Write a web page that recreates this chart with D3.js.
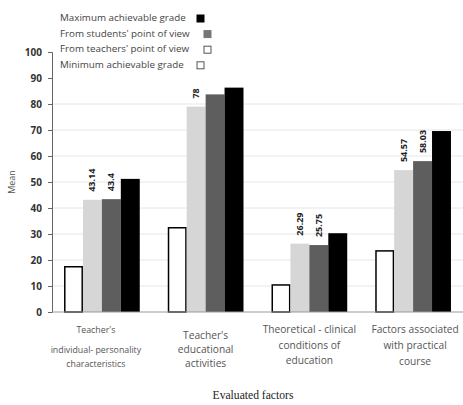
<!DOCTYPE html>
<html>
<head>
<meta charset="utf-8">
<script src="https://cdn.jsdelivr.net/npm/d3@7"></script>
<style>
  body { margin: 0; background: #fff; }
  text { font-family: "Open Sans", sans-serif; }
</style>
</head>
<body>
<div id="chart"></div>
<script>
// data
var categories = [
  ["Teacher's", "individual- personality", "characteristics"],
  ["Teacher's", "educational", "activities"],
  ["Theoretical - clinical", "conditions of", "education"],
  ["Factors associated", "with practical", "course"]
];
var seriesNames = ["Minimum achievable grade", "From teachers' point of view",
                   "From students' point of view", "Maximum achievable grade"];
var minGrade = [17.4, 32.4, 10.4, 23.5];
var teachers = [43.14, 79, 26.29, 54.57];
var students = [43.4, 83.7, 25.75, 58.03];
var maxGrade = [51.2, 86.3, 30.3, 69.6];
var teacherLabels = ["43.14", "78", "26.29", "54.57"];
var studentLabels = ["43.4", "", "25.75", "58.03"];
var yTicks = [0, 10, 20, 30, 40, 50, 60, 70, 80, 90, 100];

var width = 463, height = 405;
var svg = d3.select("#chart").append("svg")
  .attr("width", width)
  .attr("height", height);

var y = d3.scaleLinear().domain([0, 100]).range([312, 52]);
var x0 = d3.scaleBand().domain(d3.range(categories.length))
  .range([52, 463]).paddingInner(0.27).paddingOuter(0.116);
var x1 = d3.scaleBand().domain(d3.range(4)).range([0, x0.bandwidth()]);

var series = [minGrade, teachers, students, maxGrade];
var fills = ["#fff", "#d6d6d6", "#5e5e5e", "#000"];

// grid lines
svg.append("g").selectAll("line")
  .data(yTicks.filter(function(t) { return t > 0 && t <= 80; }))
  .enter().append("line")
  .attr("x1", 52).attr("x2", 463)
  .attr("y1", function(d) { return y(d); })
  .attr("y2", function(d) { return y(d); })
  .attr("stroke", "#e6e6e6");

// bars
var groups = svg.append("g").selectAll("g")
  .data(categories)
  .enter().append("g")
  .attr("transform", function(d, i) { return "translate(" + x0(i) + ",0)"; });

series.forEach(function(s, k) {
  groups.append("rect")
    .attr("x", function(d, i) { return x1(k) + (k == 0 ? 0.75 : 0); })
    .attr("width", x1.bandwidth() - (k == 0 ? 1.5 : 0))
    .attr("y", function(d, i) { return y(s[i]); })
    .attr("height", function(d, i) { return y(0) - y(s[i]); })
    .attr("fill", fills[k])
    .attr("stroke", k == 0 ? "#000" : "none")
    .attr("stroke-width", 1.5);
});

// value labels
[[1, teacherLabels], [2, studentLabels]].forEach(function(p) {
  var k = p[0], labs = p[1];
  groups.append("text")
    .attr("transform", function(d, i) {
      return "translate(" + (x1(k) + x1.bandwidth() / 2 + 3) + "," + (y(series[k][i]) - 8) + ") rotate(-90)";
    })
    .attr("font-size", 9)
    .attr("font-weight", "bold")
    .attr("fill", "#222")
    .text(function(d, i) { return labs[i]; });
});

// axes
var yAxis = svg.append("g")
  .attr("transform", "translate(52,0)")
  .call(d3.axisLeft(y).tickValues(yTicks).tickSize(4).tickPadding(6));
yAxis.select(".domain").attr("stroke", "#666");
yAxis.selectAll(".tick line").attr("stroke", "#666");
yAxis.selectAll("text")
  .attr("font-family", "Open Sans, sans-serif")
  .attr("font-size", 10)
  .attr("font-weight", "bold")
  .attr("fill", "#333");

svg.append("line")
  .attr("x1", 52).attr("x2", 463)
  .attr("y1", y(0)).attr("y2", y(0))
  .attr("stroke", "#999");

svg.append("text")
  .attr("transform", "translate(15,182) rotate(-90)")
  .attr("text-anchor", "middle")
  .attr("font-size", 9)
  .attr("fill", "#555")
  .text("Mean");

// category labels (line baselines per group, as in the picture)
var labelLines = [[333, 353, 367], [338.5, 352.5, 366.5], [333, 348.5, 364], [333, 349, 365]];
var labelSize = [8.8, 10.2, 10.2, 10.2];
var labelShift = [-6, 0, 0, 2];
groups.each(function(d, i) {
  var g = d3.select(this);
  d.forEach(function(line, j) {
    g.append("text")
      .attr("x", x0.bandwidth() / 2 + labelShift[i])
      .attr("y", labelLines[i][j])
      .attr("text-anchor", "middle")
      .attr("font-size", labelSize[i])
      .attr("fill", "#555")
      .text(line);
  });
});

svg.append("text")
  .attr("x", 253).attr("y", 399)
  .attr("text-anchor", "middle")
  .style("font-family", "'Liberation Serif', serif")
  .attr("font-size", 11.6)
  .attr("fill", "#222")
  .text("Evaluated factors");

// legend (top to bottom: max, students, teachers, min)
var legendOrder = [3, 2, 1, 0];
var legendSym = [
  { fill: "#000", stroke: "#000" },
  { fill: "#777", stroke: "#777" },
  { fill: "#fff", stroke: "#555" },
  { fill: "#fff", stroke: "#555" }
];
var legendSymX = [197, 204, 204, 197];
var legend = svg.append("g").selectAll("g")
  .data(legendOrder)
  .enter().append("g");
legend.append("text")
  .attr("x", 60)
  .attr("y", function(d, i) { return 21 + i * 15.6; })
  .attr("font-size", 9.8)
  .attr("fill", "#444")
  .text(function(d) { return seriesNames[d]; });
legend.append("rect")
  .attr("x", function(d, i) { return legendSymX[i]; })
  .attr("y", function(d, i) { return 15 + i * 15.6; })
  .attr("width", 7).attr("height", 7)
  .attr("fill", function(d, i) { return legendSym[i].fill; })
  .attr("stroke", function(d, i) { return legendSym[i].stroke; })
  .attr("stroke-width", 1);
</script>
</body>
</html>
